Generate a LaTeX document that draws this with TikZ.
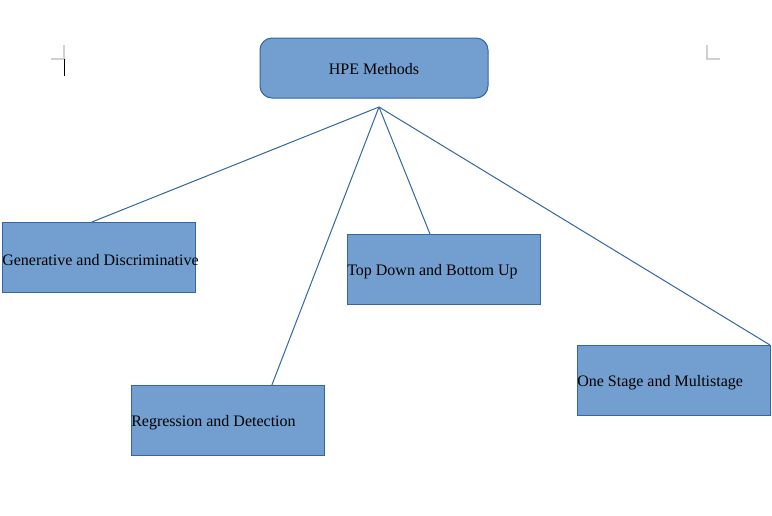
\documentclass[tikz,border=0pt]{standalone}
\usepackage{fontspec}
\setmainfont{Liberation Serif}
\usetikzlibrary{calc}
\definecolor{boxfill}{HTML}{729FCF}
\definecolor{boxline}{HTML}{3465A4}
\definecolor{markgray}{HTML}{D0D0D0}
\begin{document}
\begin{tikzpicture}[x=0.75pt,y=-0.75pt,
  box/.style={draw=boxline,fill=boxfill,line width=0.75pt,minimum width=144.75pt,minimum height=52.5pt,inner sep=0pt,outer sep=0pt,anchor=north west},
  boxtext/.style={font=\fontsize{12}{14}\selectfont,inner sep=0pt,anchor=west,yshift=-2pt},
  link/.style={draw=boxline,line width=0.75pt},
  cropmark/.style={draw=markgray,line width=1pt}]
\useasboundingbox (0,0) rectangle (772,515);
% page marks
\draw[cropmark] (64,45) -- (64,59) -- (51,59);
\draw[cropmark] (707,45) -- (707,59) -- (720,59);
\draw[black,line width=0.6pt] (64,59) -- (64,76);
% root
\node[box,rounded corners=9pt,minimum width=171pt,minimum height=45pt] (root) at (260,38) {};
\node[font=\fontsize{12}{14}\selectfont,inner sep=0pt,yshift=-1pt] (roottxt) at (root.center) {HPE Methods};
% children
\node[box] (gen) at (2,222) {};
\node[boxtext] (gentxt) at (gen.west) {Generative and Discriminative};
\node[box] (top) at (347,234) {};
\node[boxtext] (toptxt) at (top.west) {Top Down and Bottom Up};
\node[box] (reg) at (131,385) {};
\node[boxtext] (regtxt) at (reg.west) {Regression and Detection};
\node[box] (one) at (577,345) {};
\node[boxtext] (onetxt) at (one.west) {One Stage and Multistage};
% connectors
\coordinate (apex) at (379,107);
\draw[link] (apex) -- ($(gen.north west)!0.466!(gen.north east)$);
\draw[link] (apex) -- ($(reg.north west)!0.73!(reg.north east)$);
\draw[link] (apex) -- ($(top.north west)!0.43!(top.north east)$);
\draw[link] (apex) -- (one.north east);
\end{tikzpicture}
\end{document}
